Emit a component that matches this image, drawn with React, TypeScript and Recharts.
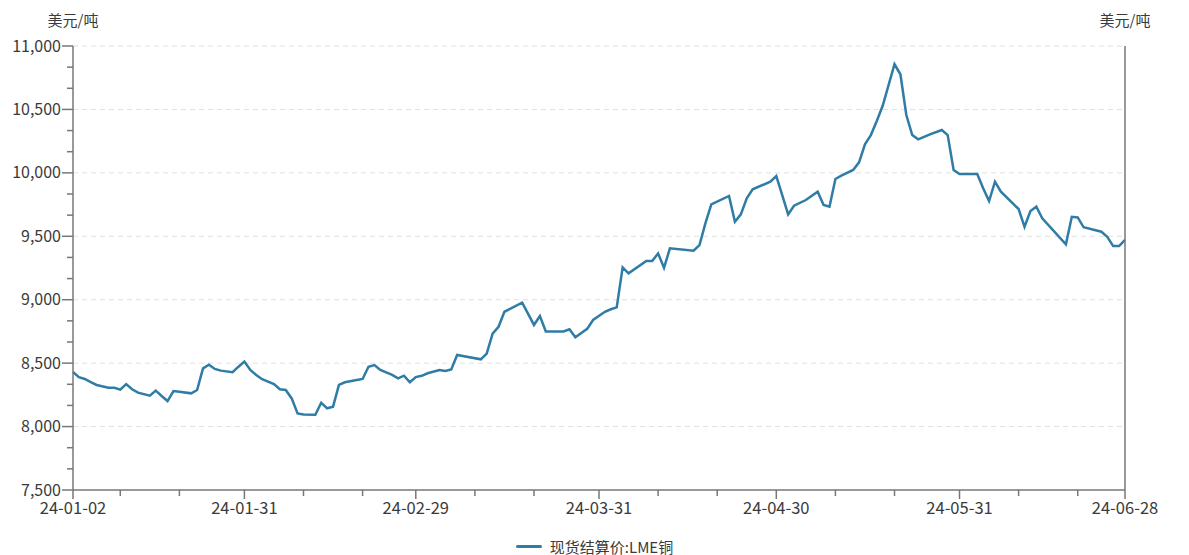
import React from 'react';
import { LineChart, Line, XAxis, YAxis, ReferenceLine, Legend } from 'recharts';

const dates = [
  '2024-01-02', '2024-01-03', '2024-01-04', '2024-01-05', '2024-01-06', '2024-01-08', '2024-01-09', '2024-01-10',
  '2024-01-11', '2024-01-12', '2024-01-13', '2024-01-15', '2024-01-16', '2024-01-17', '2024-01-18', '2024-01-19',
  '2024-01-20', '2024-01-22', '2024-01-23', '2024-01-24', '2024-01-25', '2024-01-26', '2024-01-27', '2024-01-29',
  '2024-01-30', '2024-01-31', '2024-02-01', '2024-02-02', '2024-02-03', '2024-02-05', '2024-02-06', '2024-02-07',
  '2024-02-08', '2024-02-09', '2024-02-10', '2024-02-12', '2024-02-13', '2024-02-14', '2024-02-15', '2024-02-16',
  '2024-02-17', '2024-02-19', '2024-02-20', '2024-02-21', '2024-02-22', '2024-02-23', '2024-02-25', '2024-02-26',
  '2024-02-27', '2024-02-28', '2024-02-29', '2024-03-01', '2024-03-02', '2024-03-04', '2024-03-05', '2024-03-06',
  '2024-03-07', '2024-03-11', '2024-03-12', '2024-03-13', '2024-03-14', '2024-03-15', '2024-03-18', '2024-03-20',
  '2024-03-21', '2024-03-22', '2024-03-25', '2024-03-26', '2024-03-27', '2024-03-29', '2024-03-30', '2024-04-01',
  '2024-04-02', '2024-04-03', '2024-04-04', '2024-04-05', '2024-04-08', '2024-04-09', '2024-04-10', '2024-04-11',
  '2024-04-12', '2024-04-16', '2024-04-17', '2024-04-18', '2024-04-19', '2024-04-22', '2024-04-23', '2024-04-24',
  '2024-04-25', '2024-04-26', '2024-04-29', '2024-04-30', '2024-05-01', '2024-05-02', '2024-05-03', '2024-05-05',
  '2024-05-07', '2024-05-08', '2024-05-09', '2024-05-10', '2024-05-11', '2024-05-13', '2024-05-14', '2024-05-15',
  '2024-05-16', '2024-05-17', '2024-05-18', '2024-05-20', '2024-05-21', '2024-05-22', '2024-05-23', '2024-05-24',
  '2024-05-26', '2024-05-28', '2024-05-29', '2024-05-30', '2024-05-31', '2024-06-03', '2024-06-04', '2024-06-05',
  '2024-06-06', '2024-06-07', '2024-06-10', '2024-06-11', '2024-06-12', '2024-06-13', '2024-06-14', '2024-06-18',
  '2024-06-19', '2024-06-20', '2024-06-21', '2024-06-24', '2024-06-25', '2024-06-26', '2024-06-27', '2024-06-28',
];

const lmeCopper = [
  8430, 8390, 8375, 8350, 8328, 8306, 8306, 8291,
  8335, 8294, 8267, 8243, 8283, 8241, 8201, 8280,
  8275, 8262, 8288, 8459, 8488, 8454, 8441, 8428,
  8472, 8512, 8446, 8407, 8373, 8335, 8294, 8288,
  8222, 8104, 8096, 8093, 8188, 8144, 8157, 8328,
  8349, 8367, 8375, 8472, 8485, 8446, 8407, 8380,
  8401, 8349, 8390, 8400, 8420, 8446, 8438, 8451,
  8564, 8530, 8575, 8732, 8787, 8905, 8976, 8801,
  8872, 8750, 8750, 8767, 8704, 8770, 8840, 8905,
  8925, 8940, 9255, 9208, 9305, 9305, 9365, 9252,
  9405, 9387, 9431, 9602, 9752, 9818, 9615, 9673,
  9799, 9870, 9930, 9975, 9825, 9673, 9741, 9786,
  9851, 9747, 9733, 9952, 9978, 10023, 10083, 10225,
  10298, 10409, 10529, 10856, 10777, 10456, 10298, 10264,
  10304, 10338, 10298, 10023, 9991, 9991, 9878, 9778,
  9930, 9851, 9715, 9575, 9699, 9733, 9642, 9437,
  9654, 9649, 9571, 9536, 9496, 9423, 9423, 9471,
];

const xLabelDates = ['2024-01-02', '2024-01-31', '2024-02-29', '2024-03-31', '2024-04-30', '2024-05-31', '2024-06-28'];
const xMinorDates = [
  '2024-01-10', '2024-01-20', '2024-02-10', '2024-02-20', '2024-03-10', '2024-03-20',
  '2024-04-10', '2024-04-20', '2024-05-10', '2024-05-20', '2024-06-10', '2024-06-20',
];
const yMajorTicks = [7500, 8000, 8500, 9000, 9500, 10000, 10500, 11000];

const seriesName = '现货结算价:LME铜';
const unitLabel = '美元/吨';
const lineColor = '#2f7ca6';
const axisColor = '#777';
const textColor = '#3a3a3a';
const font = '"Noto Sans CJK SC", "Noto Sans", sans-serif';

const dayOf = (s: string) => {
  const [y, m, d] = s.split('-').map(Number);
  return (Date.UTC(y, m - 1, d) - Date.UTC(2024, 0, 2)) / 86400000;
};

const data = dates.map((d, i) => ({ day: dayOf(d), value: lmeCopper[i] }));

const labelByDay = new Map(xLabelDates.map((d) => [dayOf(d), d.slice(2)]));
const xTicks = [...xLabelDates, ...xMinorDates].map(dayOf).sort((a, b) => a - b);

const yTicks: number[] = [];
for (let i = 0; i < yMajorTicks.length; i++) {
  yTicks.push(yMajorTicks[i]);
  if (i < yMajorTicks.length - 1) {
    const step = (yMajorTicks[i + 1] - yMajorTicks[i]) / 3;
    yTicks.push(yMajorTicks[i] + step, yMajorTicks[i] + 2 * step);
  }
}
const isMajor = (v: number) => yMajorTicks.includes(v);
const fmt = (v: number) => v.toLocaleString('en-US');

const XTick = ({ x, y, payload }: any) => {
  const label = labelByDay.get(payload.value);
  return (
    <g>
      <line x1={x} y1={y} x2={x} y2={y + (label ? 9 : 6)} stroke={axisColor} strokeWidth={1.5} />
      {label && (
        <text x={x} y={y + 24} textAnchor="middle" fill={textColor} fontSize={16.5}>
          {label}
        </text>
      )}
    </g>
  );
};

const LeftTick = ({ x, y, payload }: any) => {
  const major = isMajor(payload.value);
  return (
    <g>
      <line x1={x - (major ? 11 : 6)} y1={y} x2={x} y2={y} stroke={axisColor} strokeWidth={1.5} />
      {major && (
        <text x={x - 12} y={y + 5.5} textAnchor="end" fill={textColor} fontSize={16}>
          {fmt(payload.value)}
        </text>
      )}
    </g>
  );
};

const RightTick = ({ x, y, payload }: any) => {
  const major = isMajor(payload.value);
  return (
    <g>
      <line x1={x} y1={y} x2={x + (major ? 11 : 6)} y2={y} stroke={axisColor} strokeWidth={1.5} />
      {major && (
        <text x={x + 12} y={y + 5.5} textAnchor="start" fill={textColor} fontSize={16}>
          {fmt(payload.value)}
        </text>
      )}
    </g>
  );
};

const UnitLabel = (side: 'left' | 'right') => (props: any) => {
  const { viewBox } = props;
  const cx = side === 'left' ? viewBox.x + viewBox.width : viewBox.x;
  return (
    <text x={cx} y={viewBox.y - 20} textAnchor="middle" fill={textColor} fontSize={15}>
      {unitLabel}
    </text>
  );
};

const LegendContent = () => (
  <div style={{ display: 'flex', justifyContent: 'center', alignItems: 'center', fontFamily: font }}>
    <span style={{ display: 'inline-block', width: 26, height: 3, background: lineColor, borderRadius: 2, marginRight: 8 }} />
    <span style={{ fontSize: 15, color: textColor }}>{seriesName}</span>
  </div>
);

export default function App() {
  return (
    <div style={{ position: 'absolute', left: 0, top: 0, width: 1189, height: 555, background: '#fff' }}>
      <LineChart
        width={1189}
        height={555}
        data={data}
        margin={{ top: 46, right: 4, bottom: 35, left: 13 }}
        style={{ fontFamily: font }}
      >
        {yMajorTicks.slice(1).map((v) => (
          <ReferenceLine key={v} yAxisId="left" y={v} stroke="#e0e0e0" strokeDasharray="5 4" />
        ))}
        <XAxis
          dataKey="day"
          type="number"
          domain={[0, dayOf(xLabelDates[xLabelDates.length - 1])]}
          ticks={xTicks}
          interval={0}
          tick={XTick}
          tickLine={false}
          tickSize={0}
          tickMargin={0}
          height={30}
          axisLine={{ stroke: axisColor, strokeWidth: 1.5 }}
        />
        <YAxis
          yAxisId="left"
          orientation="left"
          domain={[7500, 11000]}
          ticks={yTicks}
          interval={0}
          tick={LeftTick}
          tickLine={false}
          tickSize={0}
          tickMargin={0}
          width={60}
          axisLine={{ stroke: axisColor, strokeWidth: 1.5 }}
          label={UnitLabel('left')}
        />
        <YAxis
          yAxisId="right"
          orientation="right"
          domain={[7500, 11000]}
          ticks={yTicks}
          interval={0}
          tick={RightTick}
          tickLine={false}
          tickSize={0}
          tickMargin={0}
          width={60}
          axisLine={{ stroke: axisColor, strokeWidth: 1.5 }}
          label={UnitLabel('right')}
        />
        <Line
          yAxisId="left"
          type="linear"
          dataKey="value"
          name={seriesName}
          stroke={lineColor}
          strokeWidth={2.5}
          dot={false}
          isAnimationActive={false}
        />
        <Legend
          layout="horizontal"
          verticalAlign="middle"
          align="center"
          content={LegendContent}
          wrapperStyle={{ top: 536, left: 0, width: 1189 }}
        />
      </LineChart>
    </div>
  );
}
